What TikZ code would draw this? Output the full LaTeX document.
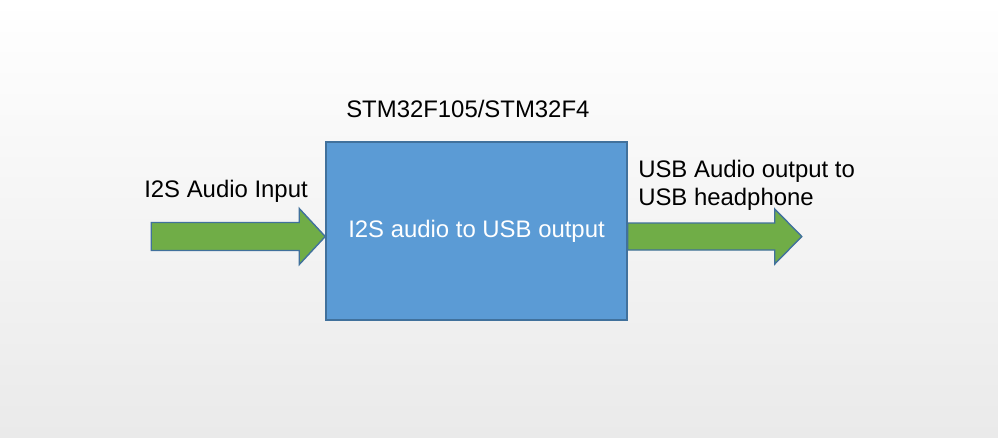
\documentclass[tikz,border=0pt]{standalone}
\usepackage{fontspec}
\setmainfont{Liberation Sans}
\usepackage{xcolor}
\usepackage{tikz}
\definecolor{boxblue}{HTML}{5B9BD5}
\definecolor{edgeblue}{HTML}{41719C}
\definecolor{arrowgreen}{HTML}{70AD47}
\definecolor{bgbottom}{HTML}{EAEAEA}

\begin{document}
\begin{tikzpicture}[x=0.025cm, y=-0.025cm,
        label/.style={inner sep=0pt, anchor=base west, font=\fontsize{17}{20}\selectfont},
        block/.style={draw=edgeblue, fill=boxblue, line width=1pt, minimum width=7.525cm, minimum height=4.45cm, inner sep=0pt, text=white, font=\fontsize{17}{20}\selectfont},
        flow/.style={draw=edgeblue, fill=arrowgreen, line width=1pt, line join=miter}]
        % Draw the background
        \shade[top color=white, bottom color=bgbottom] (0,0) rectangle (998,437);
        \useasboundingbox (0,0) rectangle (998,437);

        % Draw the controller block
        \node[block] (mcu) at (476.5,231) {I2S audio to USB output};
        \node[label] (chip) at (346,117) {STM32F105/STM32F4};

        % Draw the input arrow into the block
        \coordinate (intip) at (mcu.west |- 0,236.5);
        \draw[flow] (intip) -- ++(-26,-28) -- ++(0,14) -- ++(-148,0) -- ++(0,28) -- ++(148,0) -- ++(0,14) -- cycle;
        \node[label] (inlabel) at (144,197) {I2S Audio Input};

        % Draw the output arrow from the block
        \coordinate (outbase) at (mcu.east |- 0,236.5);
        \draw[flow] (outbase) ++(0,-13.5) -- ++(147,0) -- ++(0,-14) -- ++(27,27.5) -- ++(-27,27.5) -- ++(0,-14) -- ++(-147,0) -- cycle;
        \node[label] (outlabel) at (638,177.5) {USB Audio output to};
        \node[label] (outlabel2) at (638,205.5) {USB headphone};
\end{tikzpicture}
\end{document}
